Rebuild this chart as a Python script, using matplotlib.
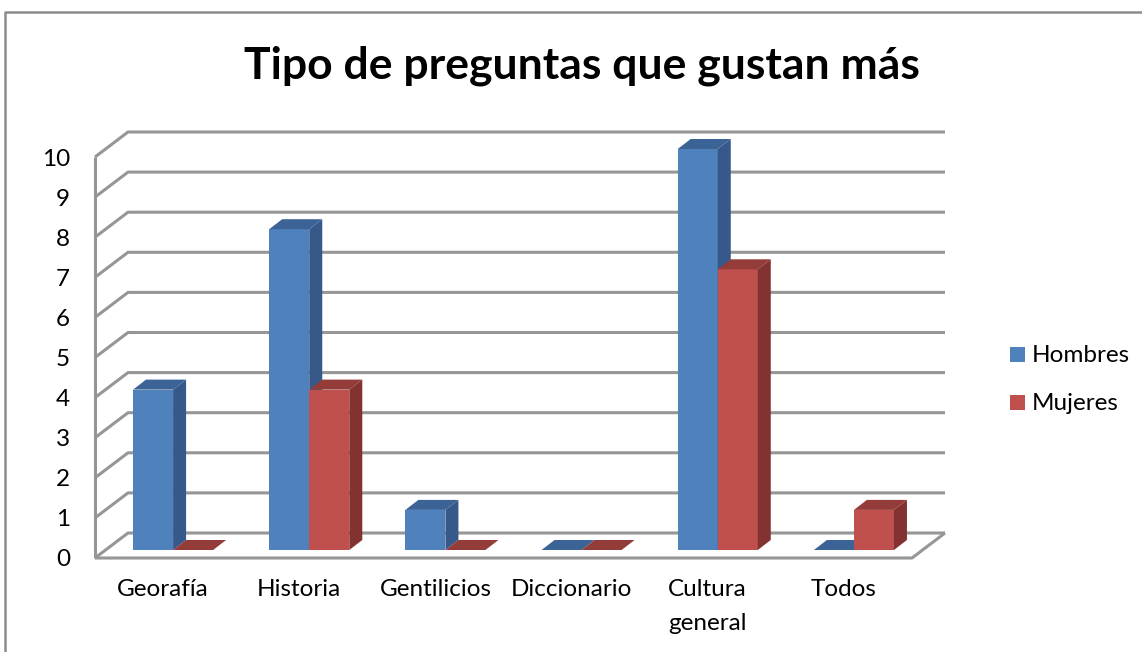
import numpy as np
import matplotlib
matplotlib.use("Agg")
import matplotlib.pyplot as plt
from matplotlib.patches import Polygon
from matplotlib.lines import Line2D
from matplotlib.transforms import IdentityTransform

plt.rcParams['font.family'] = ['Lato', 'DejaVu Sans']

categories = ['Georafía', 'Historia', 'Gentilicios', 'Diccionario', 'Cultura\ngeneral', 'Todos']
hombres = [4, 8, 1, 0, 10, 0]
mujeres = [0, 4, 0, 0, 7, 1]
series_names = ['Hombres', 'Mujeres']
yticks = list(range(0, 11))

# front, side, top colours
h_cols = ('#4F81BD', '#36598A', '#3C6396')
m_cols = ('#C0504D', '#823230', '#933C39')
grid_col = '#969696'

W, H = 1142, 652
fig = plt.figure(figsize=(W / 100, H / 100), dpi=100)
ax = fig.add_axes([95 / W, (H - 558) / H, 817 / W, (558 - 157) / H])
ax.set_xlim(0, len(categories))
ax.set_ylim(0, 10)
ax.patch.set_visible(False)

# pixel offsets of the 3d look
BACK = np.array([33, 25])     # back wall offset
BPLANE = np.array([10, 8])    # front plane of bars
DEPTH = np.array([13, 10])    # depth of each bar
bw = 0.294

def P(x, y, off=(0, 0)):
    return ax.transData.transform((x, y)) + np.asarray(off)

def add_line(pts, lw=2.0):
    pts = np.array(pts)
    ax.add_line(Line2D(pts[:, 0], pts[:, 1], transform=IdentityTransform(),
                       color=grid_col, lw=lw, clip_on=False, zorder=1,
                       solid_capstyle='butt'))

def add_poly(pts, color, z=3):
    ax.add_patch(Polygon(np.array(pts), closed=True, transform=IdentityTransform(),
                         facecolor=color, edgecolor='none', clip_on=False, zorder=z))

# walls and floor
for v in yticks:
    add_line([P(0, v), P(0, v, BACK), P(len(categories), v, BACK)], lw=2.2)
add_line([P(0, 0), P(len(categories), 0), P(len(categories), 0, BACK)], lw=2.2)
add_line([P(0, 0), P(0, 10)], lw=2.2)

# bars
def bar3d(xl, v, cols, z):
    front, side, top = cols
    x0, x1 = xl, xl + bw
    if v > 0:
        add_poly([P(x0, 0, BPLANE), P(x1, 0, BPLANE), P(x1, v, BPLANE), P(x0, v, BPLANE)], front, z)
        add_poly([P(x1, 0, BPLANE), P(x1, 0, BPLANE + DEPTH), P(x1, v, BPLANE + DEPTH), P(x1, v, BPLANE)], side, z)
    add_poly([P(x0, v, BPLANE), P(x1, v, BPLANE), P(x1, v, BPLANE + DEPTH), P(x0, v, BPLANE + DEPTH)], top, z)

for i in range(len(categories)):
    c = i + 0.5
    bar3d(c - bw, hombres[i], h_cols, 3 + 2 * i)
    bar3d(c, mujeres[i], m_cols, 4 + 2 * i)

# axes text
for s in ax.spines.values():
    s.set_visible(False)
ax.set_yticks(yticks)
ax.set_yticklabels([str(t) for t in yticks], fontsize=17.5)
ax.set_xticks(np.arange(len(categories)) + 0.5)
ax.set_xticklabels(categories, fontsize=17.5, va='top', linespacing=1.75)
ax.tick_params(axis='y', length=0, pad=18, colors='black')
ax.tick_params(axis='x', length=0, pad=15, colors='black')

fig.text(582 / W, 1 - 66 / H, 'Tipo de preguntas que gustan más', ha='center', va='center',
         fontsize=32, fontweight='bold')

# legend
for k, (name, col) in enumerate(zip(series_names, [h_cols[0], m_cols[0]])):
    yy = 355 + 48 * k
    fig.patches.append(plt.Rectangle((1010 / W, 1 - (yy + 7) / H), 15 / W, 15 / H,
                                     transform=fig.transFigure, facecolor=col, edgecolor='none'))
    fig.text(1032 / W, 1 - yy / H, name, ha='left', va='center', fontsize=17.5)

# outer border
fig.add_artist(Line2D([5 / W, 5 / W, 1.0], [0, 1 - 12 / H, 1 - 12 / H],
                      transform=fig.transFigure, color='#8C8C8C', lw=1.8))

fig.savefig('out.png', dpi=100, facecolor='white')
